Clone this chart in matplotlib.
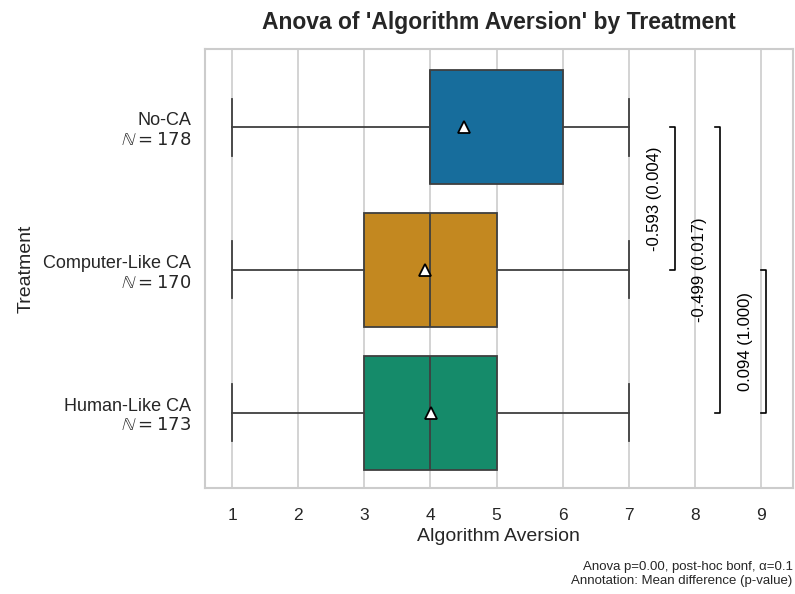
import colorsys
import matplotlib
matplotlib.use("Agg")
import matplotlib.pyplot as plt
import matplotlib.colors as mcolors

groups = ["No-CA", "Computer-Like CA", "Human-Like CA"]
counts = [178, 170, 173]
whislo = [1, 1, 1]
q1 = [4, 3, 3]
med = [4, 4, 4]
q3 = [6, 5, 5]
whishi = [7, 7, 7]
means = [4.513, 3.920, 4.014]

# pairwise comparisons: (group a, group b, mean difference, p-value)
pairs = [(0, 1, -0.593, 0.004), (0, 2, -0.499, 0.017), (1, 2, 0.094, 1.000)]
bracket_x = [7.70, 8.38, 9.08]

base_colors = ["#0173B2", "#DE8F05", "#029E73"]


def desat(c, s=0.75):
    h, l, sat = colorsys.rgb_to_hls(*mcolors.to_rgb(c))
    return colorsys.hls_to_rgb(h, l, sat * s)


plt.rcParams.update({
    "font.family": ["Liberation Sans", "DejaVu Sans"],
    "text.color": ".15",
    "axes.labelcolor": ".15",
    "xtick.color": ".15",
    "ytick.color": ".15",
})

fig, ax = plt.subplots(figsize=(7.95, 5.94), dpi=100)
fig.subplots_adjust(left=0.258, right=0.997, top=0.918, bottom=0.178)

stats = []
for i, g in enumerate(groups):
    stats.append(dict(label=g, whislo=whislo[i], q1=q1[i], med=med[i],
                      q3=q3[i], whishi=whishi[i], mean=means[i], fliers=[]))

edge = "#3f3f3f"
bp = ax.bxp(stats, positions=range(len(groups)), vert=False, widths=0.8,
            patch_artist=True, showmeans=True, showcaps=True,
            boxprops=dict(edgecolor=edge, linewidth=1.3),
            medianprops=dict(color=edge, linewidth=1.3),
            whiskerprops=dict(color=edge, linewidth=1.3),
            capprops=dict(color=edge, linewidth=1.3),
            meanprops=dict(marker="^", markerfacecolor="white",
                           markeredgecolor="black", markersize=8,
                           markeredgewidth=1.3),
            capwidths=0.4)
for patch, c in zip(bp["boxes"], base_colors):
    patch.set_facecolor(desat(c))

for (a, b, diff, p), x in zip(pairs, bracket_x):
    tick = 0.08
    ax.plot([x - tick, x, x, x - tick], [a, a, b, b], color="black", lw=1.2,
            zorder=5)
    ax.text(x - 0.31, (a + b) / 2, f"{diff:.3f} ({p:.3f})", rotation=90,
            ha="center", va="center", fontsize=12, color="black")

ax.set_xlim(0.59, 9.48)
ax.set_ylim(2.53, -0.55)
ax.set_xticks(range(1, 10))
ax.set_yticks(range(len(groups)))
ax.set_yticklabels([f"{g}\n$\\mathbb{{N}} = {n}$" for g, n in zip(groups, counts)],
                   ha="right", multialignment="right")
ax.tick_params(axis="y", labelsize=13, length=0, pad=10)
ax.tick_params(axis="x", labelsize=12.5, length=0, pad=14)
ax.xaxis.grid(True, color="#cccccc", lw=1.2)
ax.set_axisbelow(True)
for s in ax.spines.values():
    s.set_color("#cccccc")
    s.set_linewidth(1.5)

ax.set_xlabel("Algorithm Aversion", fontsize=14, labelpad=4)
ax.set_ylabel("Treatment", fontsize=14, labelpad=6)
ax.set_title("Anova of 'Algorithm Aversion' by Treatment", fontsize=16.5,
             fontweight="bold", pad=14)

fig.text(0.997, 0.012, "Anova p=0.00, post-hoc bonf, \u03b1=0.1\n"
         "Annotation: Mean difference (p-value)", ha="right", va="bottom",
         fontsize=9.5)

fig.savefig("out.png", dpi=100)
